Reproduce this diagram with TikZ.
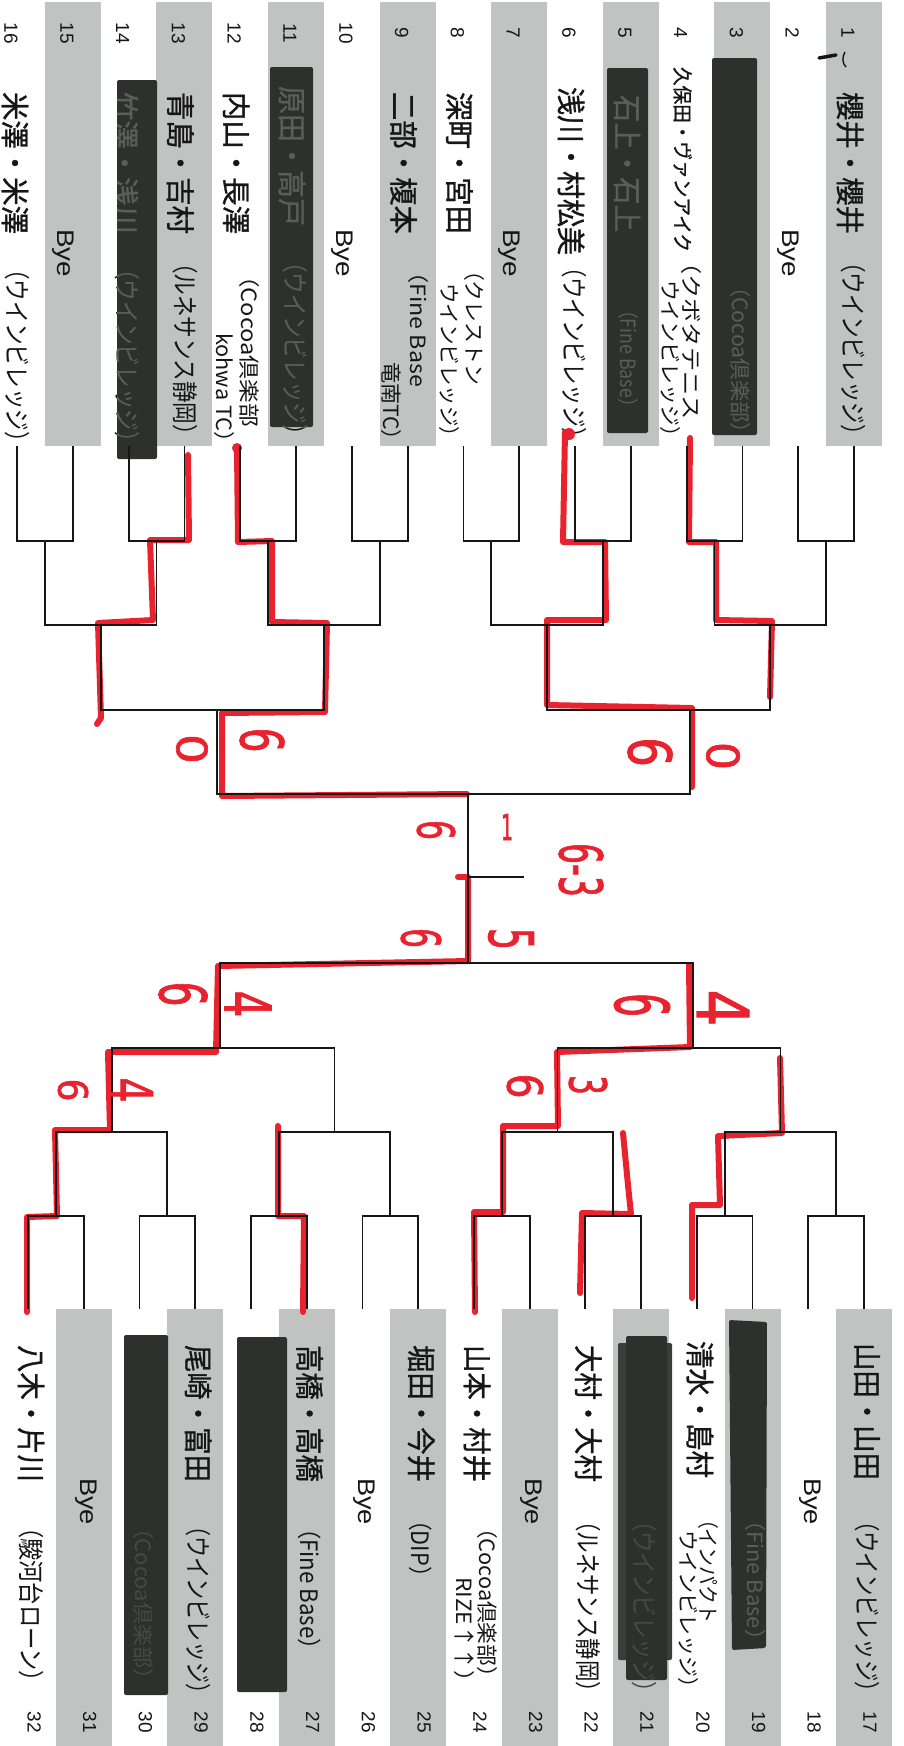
\documentclass[tikz,border=0pt]{standalone}
\usepackage{fontspec}
\usepackage{graphicx}
\newfontfamily\jp{Noto Sans CJK JP}
\newfontfamily\jpb[FakeBold=1]{Noto Sans CJK JP}
\newfontfamily\lat{Liberation Sans}
\newfontfamily\hand[FakeBold=1.5]{DejaVu Sans}
\definecolor{stripg}{HTML}{C1C3C2}
\definecolor{redact}{HTML}{2D302D}
\definecolor{redactl}{HTML}{3A3D3A}
\definecolor{seen}{HTML}{5A5E5A}
\definecolor{seenb}{HTML}{464946}
\definecolor{mk}{HTML}{E8222E}
\definecolor{ink}{HTML}{161616}
\tikzset{
  bk/.style={draw=ink,line width=1.8pt},
  rd/.style={draw=mk,line width=6pt,line cap=round,line join=round},
  txt/.style={rotate=-90,inner sep=0pt,outer sep=0pt,text=ink},
  hw/.style={rotate=-90,inner sep=0pt,outer sep=0pt,text=mk},
  redbox/.style={fill=redact,draw=none,rounded corners=2pt},
}
\newcounter{nn}
\newcommand\vt[6]{\stepcounter{nn}\node[txt,anchor=west,#1] (t\arabic{nn}) at (#2,#3) {\resizebox{#4pt}{\height}{\fontsize{#5pt}{#5pt}\selectfont #6}};}
\newcommand\hwd[6]{\stepcounter{nn}\node[hw,#1] (h\arabic{nn}) at (#2,#3) {\resizebox{#4pt}{#5pt}{\hand #6}};}
\begin{document}
\begin{tikzpicture}[x=1pt,y=-1pt]
\path[use as bounding box,fill=white] (0,0) rectangle (903,1746);
% grey strips
\foreach \k in {1,3,...,15}{\pgfmathsetmacro\xc{854-(\k-1)*55.8}
  \fill[stripg] (\xc-28,2) rectangle (\xc+28,446);}
\foreach \k in {17,19,...,31}{\pgfmathsetmacro\xc{864-(\k-17)*55.73}
  \fill[stripg] (\xc-28,1309) rectangle (\xc+28,1746);}
% numbers
\foreach \k in {1,...,16}{\pgfmathsetmacro\xc{854-(\k-1)*55.8-6}
  \node[txt,font={\lat\fontsize{19pt}{19pt}\selectfont}] (num\k) at (\xc,33) {\k};}
\foreach \k in {17,...,32}{\pgfmathsetmacro\xc{864-(\k-17)*55.73+6}
  \node[txt,font={\lat\fontsize{19pt}{19pt}\selectfont}] (num\k) at (\xc,1722) {\k};}
% ---- top entries
\vt{font=\jpb}{850}{92}{142}{29}{櫻井・櫻井}
\vt{font=\jp}{853}{251}{195}{26}{（ウインビレッジ）}
\vt{font=\lat}{788.2}{229}{48}{24}{Bye}
\vt{font=\jpb}{682.6}{67}{185}{20}{久保田・ヴァンアイク}
\vt{font=\jp}{691}{250}{170}{21}{（クボタテニス}
\vt{font=\jp}{670}{280}{167}{21}{ウインビレッジ）}
\vt{font=\jpb}{571}{87}{168}{29}{浅川・村松美}
\vt{font=\jp}{574}{256}{193}{26}{（ウインビレッジ）}
\vt{font=\lat}{509.2}{229}{48}{24}{Bye}
\vt{font=\jpb}{459.4}{92}{142}{29}{深町・宮田}
\vt{font=\jp}{474}{260}{125}{21}{（クレストン}
\vt{font=\jp}{449}{283}{164}{21}{ウインビレッジ）}
\vt{font=\jpb}{403.6}{92}{142}{29}{二部・榎本}
\vt{font=\jp}{418}{260}{127}{21}{（Fine Base}
\vt{font=\jp}{391}{362}{89}{21}{竜南TC）}
\vt{font=\lat}{341.8}{229}{48}{24}{Bye}
\vt{font=\jp}{295}{251}{195}{26}{（ウインビレッジ）}
\vt{font=\jpb}{236.2}{92}{142}{29}{内山・長澤}
\vt{font=\jp}{249}{264}{163}{21}{（Cocoa倶楽部}
\vt{font=\jp}{224}{333}{120}{21}{kohwa TC）}
\vt{font=\jpb}{180.4}{92}{142}{29}{青島・吉村}
\vt{font=\jp}{185}{252}{194}{26}{（ルネサンス静岡）}
\vt{font=\jp}{127.6}{258}{195}{26}{（ウインビレッジ）}
\vt{font=\lat}{62.8}{229}{48}{24}{Bye}
\vt{font=\jpb}{15}{92}{142}{29}{米澤・米澤}
\vt{font=\jp}{17}{258}{195}{26}{（ウインビレッジ）}
% ---- bottom entries
\vt{font=\jpb}{867}{1343}{137}{29}{山田・山田}
\vt{font=\jp}{867}{1510}{193}{26}{（ウインビレッジ）}
\vt{font=\lat}{810.3}{1478}{47}{24}{Bye}
\vt{font=\jpb}{700}{1341}{137}{29}{清水・島村}
\vt{font=\jp}{708}{1510}{113}{21}{（インパクト}
\vt{font=\jp}{688}{1530}{168}{21}{ウインビレッジ）}
\vt{font=\jpb}{588.3}{1345}{137}{29}{大村・大村}
\vt{font=\jp}{588}{1510}{193}{26}{（ルネサンス静岡）}
\vt{font=\lat}{531.6}{1478}{47}{24}{Bye}
\vt{font=\jpb}{476.9}{1345}{137}{29}{山本・村井}
\vt{font=\jp}{487}{1517}{171}{21}{（Cocoa倶楽部）}
\vt{font=\jp}{464}{1577}{116}{21}{RIZE↑↑）}
\vt{font=\jpb}{421.2}{1345}{137}{29}{堀田・今井}
\vt{font=\jp}{421}{1509}{79}{24}{（DIP）}
\vt{font=\lat}{364.4}{1478}{47}{24}{Bye}
\vt{font=\jpb}{309.7}{1345}{137}{29}{高橋・高橋}
\vt{font=\jp}{310}{1517}{144}{24}{（Fine Base）}
\vt{font=\jpb}{198.2}{1345}{137}{29}{尾崎・富田}
\vt{font=\jp}{198}{1515}{190}{26}{（ウインビレッジ）}
\vt{font=\lat}{85.8}{1478}{47}{24}{Bye}
\vt{font=\jpb}{31}{1345}{137}{29}{八木・片川}
\vt{font=\jp}{31}{1516}{177}{26}{（駿河台ローン）}
% ---- redactions
\fill[redbox] (712,58) rectangle (757,435);
\fill[redbox] (607,68) rectangle (648,433);
\fill[redbox] (270,67) rectangle (313,427);
\fill[redbox] (117,80) rectangle (157,459);
\fill[redbox] (729,1320) -- (767,1322) -- (766,1648) -- (732,1650) -- cycle;
\fill[redbox,fill=redactl] (618,1343) rectangle (672,1660);
\fill[redbox] (626,1336) rectangle (667,1680);
\fill[redbox] (237,1337) rectangle (287,1692);
\fill[redbox] (124,1335) rectangle (168,1695);
% text seen through the marker
\begin{scope}\clip (712,58) rectangle (757,435);
\vt{font=\jp,text=seen}{740}{276}{168}{21}{（Cocoa倶楽部）}\end{scope}
\begin{scope}\clip (607,68) rectangle (648,433);
\vt{font=\jpb,text=seen}{627}{95}{137}{29}{石上・石上}
\vt{font=\jp,text=seen}{628}{301}{115}{21}{（Fine Base）}\end{scope}
\begin{scope}\clip (270,67) rectangle (313,427);
\vt{font=\jpb,text=seen}{292}{86}{140}{29}{原田・高戸}
\vt{font=\jp,text=seen}{295}{251}{195}{26}{（ウインビレッジ）}\end{scope}
\begin{scope}\clip (117,80) rectangle (157,459);
\vt{font=\jpb,text=seen}{124.6}{92}{142}{29}{竹澤・浅川}
\vt{font=\jp,text=seen}{127.6}{258}{195}{26}{（ウインビレッジ）}\end{scope}
\vt{font=\jp,text=seen}{755}{1509}{142}{21}{（Fine Base）}
\vt{font=\jp,text=seenb}{644}{1510}{193}{26}{（ウインビレッジ）}
\vt{font=\jp,text=seenb}{143}{1517}{173}{21}{（Cocoa倶楽部）}
% small black mark
\draw[ink,line width=3.5pt,line cap=round] (819,58) -- (836,55);
\draw[ink,line width=1.4pt] (845,52) .. controls (842,57) and (842,63) .. (846,67);
% ---- red winner paths
\fill[mk] (569,434) circle (6pt);
\fill[mk] (237,448) circle (5pt);
\draw[rd] (565,432) -- (563,542) -- (605,542) -- (606,620) -- (547,620) -- (547,705) -- (692,708) -- (692,787);
\draw[rd] (690,438) -- (689,542) -- (716,542) -- (716,620) -- (772,621) -- (770,697);
\draw[rd] (188,455) -- (189,540) -- (150,540) -- (153,620) -- (98,623) -- (101,718) -- (97,724);
\draw[rd] (237,448) -- (238,542) -- (272,541) -- (272,622) -- (327,623) -- (325,712) -- (222,713) -- (222,796) -- (467,794);
\draw[rd] (27,1312) -- (27,1217) -- (57,1216) -- (55,1130) -- (110,1130) -- (108,1052) -- (216,1052) -- (218,966) -- (468,961) -- (468,879);
\draw[rd] (458,877) -- (468,877);
\draw[rd] (303,1312) -- (304,1216) -- (278,1216) -- (278,1126);
\draw[rd] (475,1312) -- (474,1212) -- (503,1212) -- (503,1126) -- (558,1126) -- (557,1052) -- (690,1047) -- (689,965);
\draw[rd] (580,1293) -- (582,1213) -- (631,1214) -- (628,1185) -- (623,1133);
\draw[rd] (692,1298) -- (692,1205) -- (720,1205) -- (718,1136) -- (782,1133) -- (780,1058);
% ---- bracket (top half)
\foreach \p in {0,...,7}{\pgfmathsetmacro\xa{854-2*\p*55.8}\pgfmathsetmacro\xb{\xa-55.8}
  \draw[bk] (\xa,446) -- (\xa,541) -- (\xb,541) -- (\xb,446);}
\foreach \q in {0,...,3}{\pgfmathsetmacro\ma{854-4*\q*55.8-27.9}\pgfmathsetmacro\mb{\ma-111.6}
  \draw[bk] (\ma,541) -- (\ma,625) -- (\mb,625) -- (\mb,541);}
\foreach \o in {0,1}{\pgfmathsetmacro\na{854-8*\o*55.8-83.7}\pgfmathsetmacro\nb{\na-223.2}
  \draw[bk] (\na,625) -- (\na,710) -- (\nb,710) -- (\nb,625);}
\draw[bk] (690,710) -- (690,794) -- (217,794) -- (217,710);
% ---- bracket (bottom half)
\foreach \p in {0,...,7}{\pgfmathsetmacro\xa{864-2*\p*55.73}\pgfmathsetmacro\xb{\xa-55.73}
  \draw[bk] (\xa,1309) -- (\xa,1216) -- (\xb,1216) -- (\xb,1309);}
\foreach \q in {0,...,3}{\pgfmathsetmacro\ma{864-4*\q*55.73-27.87}\pgfmathsetmacro\mb{\ma-111.46}
  \draw[bk] (\ma,1216) -- (\ma,1132) -- (\mb,1132) -- (\mb,1216);}
\foreach \o in {0,1}{\pgfmathsetmacro\na{864-8*\o*55.73-83.6}\pgfmathsetmacro\nb{\na-222.9}
  \draw[bk] (\na,1132) -- (\na,1048) -- (\nb,1048) -- (\nb,1132);}
\draw[bk] (693,1048) -- (693,963) -- (220,963) -- (220,1048);
% final
\coordinate (ftop) at (468,794);
\coordinate (fbot) at (468,963);
\coordinate (fmid) at (468,877);
\coordinate (fend) at (524,877);
\draw[bk] (ftop) -- (fbot);
\draw[bk] (fmid) -- (fend);
% ---- handwritten scores
\hwd{}{650}{752}{30}{44}{6}
\hwd{}{723}{756}{28}{33}{0}
\hwd{}{192}{749}{30}{31}{0}
\hwd{}{262}{740}{25}{44}{6}
\hwd{}{436}{830}{20}{38}{6}
\hwd{rotate=90}{507}{827}{12}{26}{1}
\hwd{}{581}{870}{54}{44}{6-3}
\hwd{}{421}{938}{20}{40}{6}
\hwd{}{511}{939}{22}{45}{5}
\hwd{}{183}{994}{25}{48}{6}
\hwd{}{248}{1004}{27}{47}{4}
\hwd{}{73}{1090}{23}{30}{6}
\hwd{}{132}{1090}{25}{42}{4}
\hwd{}{642}{1005}{24}{55}{6}
\hwd{}{723}{1008}{37}{52}{4}
\hwd{}{525}{1086}{25}{36}{6}
\hwd{}{588}{1085}{20}{38}{3}
\end{tikzpicture}
\end{document}
